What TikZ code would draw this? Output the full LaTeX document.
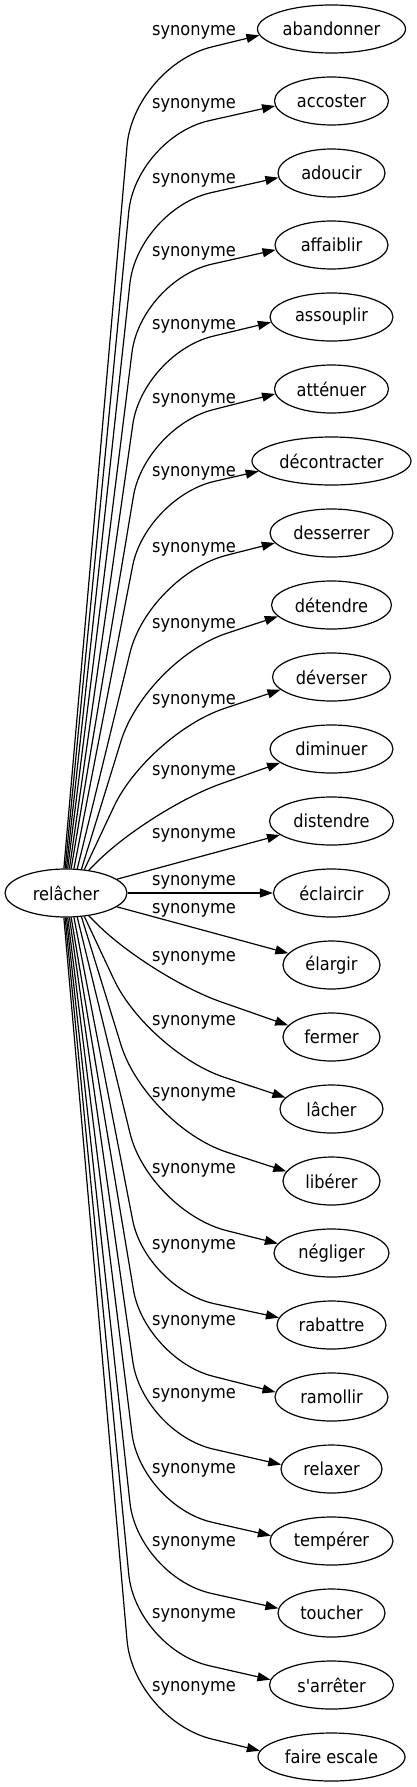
\documentclass[tikz,border=0pt]{standalone}
\usepackage{fontspec}
\setmainfont{DejaVu Sans Condensed}
\usetikzlibrary{arrows.meta,shapes.geometric}
\begin{document}
\begin{tikzpicture}[x=1pt, y=-1pt, line width=1.2pt, font=\fontsize{18}{21}\selectfont,
    word/.style={draw, ellipse, minimum height=48pt, inner sep=0pt},
    syn/.style={-{Triangle[length=13pt, width=9pt]}, rounded corners=#1},
    syn/.default=75pt,
    lbl/.style={inner sep=0pt}]
  \useasboundingbox (0,0) rectangle (416,1787);

  \node[word, minimum width=122pt] (relacher) at (66,893) {relâcher};

  \node[word, minimum width=148pt] (abandonner) at (331.5,29) {abandonner};
  \node[word, minimum width=114pt] (accoster) at (331.5,101) {accoster};
  \node[word, minimum width=107pt] (adoucir) at (331.5,173) {adoucir};
  \node[word, minimum width=113pt] (affaiblir) at (331.5,245) {affaiblir};
  \node[word, minimum width=123pt] (assouplir) at (331.5,317) {assouplir};
  \node[word, minimum width=114pt] (attenuer) at (331.5,389) {atténuer};
  \node[word, minimum width=159pt] (decontracter) at (331.5,461) {décontracter};
  \node[word, minimum width=123pt] (desserrer) at (331.5,533) {desserrer};
  \node[word, minimum width=120pt] (detendre) at (331.5,605) {détendre};
  \node[word, minimum width=118pt] (deverser) at (331.5,677) {déverser};
  \node[word, minimum width=123pt] (diminuer) at (331.5,749) {diminuer};
  \node[word, minimum width=124pt] (distendre) at (331.5,821) {distendre};
  \node[word, minimum width=116pt] (eclaircir) at (331.5,893) {éclaircir};
  \node[word, minimum width=97pt] (elargir) at (331.5,965) {élargir};
  \node[word, minimum width=97pt] (fermer) at (331.5,1037) {fermer};
  \node[word, minimum width=103pt] (lacher) at (331.5,1109) {lâcher};
  \node[word, minimum width=97pt] (liberer) at (331.5,1181) {libérer};
  \node[word, minimum width=115pt] (negliger) at (331.5,1253) {négliger};
  \node[word, minimum width=109pt] (rabattre) at (331.5,1325) {rabattre};
  \node[word, minimum width=113pt] (ramollir) at (331.5,1397) {ramollir};
  \node[word, minimum width=101pt] (relaxer) at (331.5,1469) {relaxer};
  \node[word, minimum width=123pt] (temperer) at (331.5,1541) {tempérer};
  \node[word, minimum width=107pt] (toucher) at (331.5,1613) {toucher};
  \node[word, minimum width=124pt] (sarreter) at (331.5,1685) {s\textquotesingle arrêter};
  \node[word, minimum width=147pt] (faireescale) at (331.5,1757) {faire escale};

  % upper fan
  \draw[syn=80pt] (relacher.95) -- (134,66) -- (abandonner.185) node[lbl] (s-abandonner) at (194,32) {synonyme};
  \draw[syn] (relacher.92) -- (136,137) -- (accoster.185) node[lbl] (s-accoster) at (194,105) {synonyme};
  \draw[syn] (relacher.89) -- (138,209) -- (adoucir.185) node[lbl] (s-adoucir) at (194,180) {synonyme};
  \draw[syn=73pt] (relacher.86) -- (141,280) -- (affaiblir.185) node[lbl] (s-affaiblir) at (194,253) {synonyme};
  \draw[syn=72pt] (relacher.82) -- (143,353) -- (assouplir.185) node[lbl] (s-assouplir) at (194,326) {synonyme};
  \draw[syn=70pt] (relacher.78) -- (145,427) -- (attenuer.185) node[lbl] (s-attenuer) at (194,400) {synonyme};
  \draw[syn=70pt] (relacher.72) -- (146,497) -- (decontracter.188) node[lbl] (s-decontracter) at (194,473) {synonyme};
  \draw[syn=80pt] (relacher.65) -- (149,575) -- (desserrer.190) node[lbl] (s-desserrer) at (194,549) {synonyme};
  \draw[syn=85pt] (relacher.57) -- (146,660) -- (detendre.192) node[lbl] (s-detendre) at (194,625) {synonyme};
  \draw[syn=80pt] (relacher.52) -- (148,734) -- (deverser.194) node[lbl] (s-deverser) at (194,701) {synonyme};
  \draw[syn] (relacher.45) -- (150,809) -- (diminuer.195) node[lbl] (s-diminuer) at (194,772) {synonyme};
  \draw[syn] (relacher) -- (distendre) node[lbl] (s-distendre) at (194,835) {synonyme};

  % straight on
  \draw[syn] (relacher) -- (eclaircir) node[lbl] (s-eclaircir) at (194,882) {synonyme};

  % lower fan
  \draw[syn] (relacher) -- (elargir) node[lbl] (s-elargir) at (194,910) {synonyme};
  \draw[syn] (relacher.315) -- (150,977) -- (fermer.165) node[lbl] (s-fermer) at (194,958) {synonyme};
  \draw[syn=80pt] (relacher.308) -- (148,1052) -- (lacher.166) node[lbl] (s-lacher) at (194,1022) {synonyme};
  \draw[syn=85pt] (relacher.303) -- (146,1126) -- (liberer.168) node[lbl] (s-liberer) at (194,1094) {synonyme};
  \draw[syn=80pt] (relacher.295) -- (149,1211) -- (negliger.170) node[lbl] (s-negliger) at (194,1170) {synonyme};
  \draw[syn=70pt] (relacher.288) -- (146,1289) -- (rabattre.172) node[lbl] (s-rabattre) at (194,1246) {synonyme};
  \draw[syn=70pt] (relacher.282) -- (145,1359) -- (ramollir.175) node[lbl] (s-ramollir) at (194,1322) {synonyme};
  \draw[syn=72pt] (relacher.278) -- (143,1433) -- (relaxer.175) node[lbl] (s-relaxer) at (194,1395) {synonyme};
  \draw[syn=73pt] (relacher.274) -- (141,1506) -- (temperer.175) node[lbl] (s-temperer) at (194,1470) {synonyme};
  \draw[syn] (relacher.271) -- (138,1577) -- (toucher.175) node[lbl] (s-toucher) at (194,1543) {synonyme};
  \draw[syn] (relacher.268) -- (136,1649) -- (sarreter.175) node[lbl] (s-sarreter) at (194,1615) {synonyme};
  \draw[syn=80pt] (relacher.265) -- (134,1720) -- (faireescale.175) node[lbl] (s-faireescale) at (194,1688) {synonyme};
\end{tikzpicture}
\end{document}
